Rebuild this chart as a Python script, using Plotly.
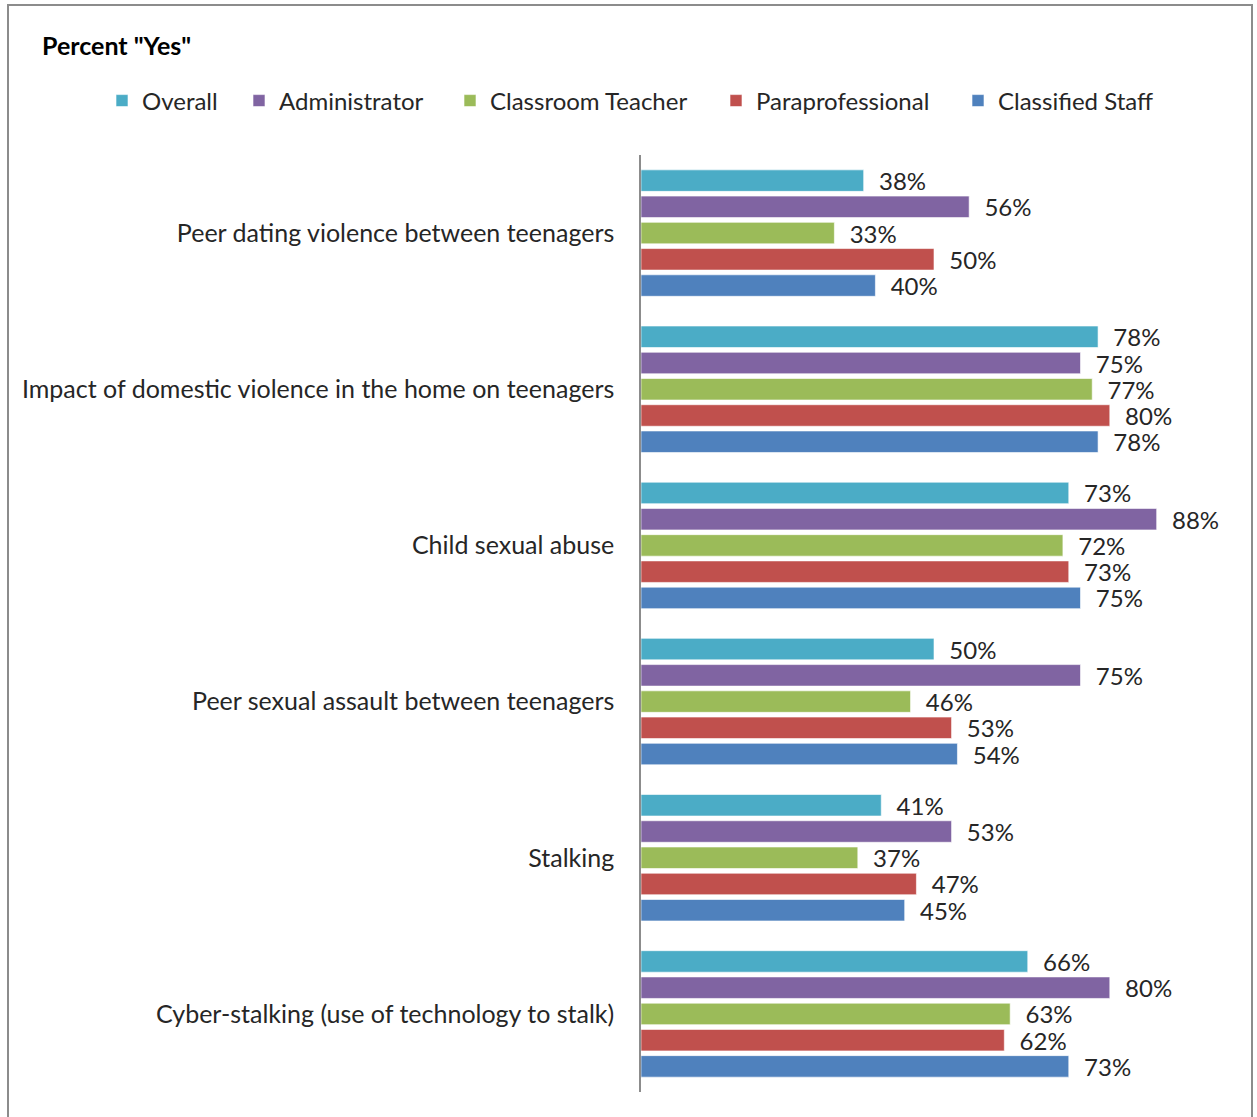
import plotly.graph_objects as go

# Survey topics (top to bottom) and the share answering "Yes" per respondent group
categories = [
    "Peer dating violence between teenagers",
    "Impact of domestic violence in the home on teenagers",
    "Child sexual abuse",
    "Peer sexual assault between teenagers",
    "Stalking",
    "Cyber-stalking (use of technology to stalk)",
]
series_names = ["Overall", "Administrator", "Classroom Teacher", "Paraprofessional", "Classified Staff"]
overall = [38, 78, 73, 50, 41, 66]
administrator = [56, 75, 88, 75, 53, 80]
classroom_teacher = [33, 77, 72, 46, 37, 63]
paraprofessional = [50, 80, 73, 53, 47, 62]
classified_staff = [40, 78, 75, 54, 45, 73]
series_values = [overall, administrator, classroom_teacher, paraprofessional, classified_staff]
colors = ["#4BACC6", "#8064A2", "#9BBB59", "#C0504D", "#4F81BD"]

W, H = 1257, 1117
ML, MR, MT, MB = 641, 30, 155, 25
PW, PH = W - ML - MR, H - MT - MB

FONT = "Lato"
TXT = "#262626"


def px_x(px):
    return (px - ML) / PW


def px_y(py):
    return (H - MB - py) / PH


# each series gets its own one-entry legend so entries can be spaced freely
legend_left = [102, 239, 450, 716, 958]

fig = go.Figure()
for i, (name, vals, col) in enumerate(zip(series_names, series_values, colors)):
    lg = "legend" if i == 0 else f"legend{i + 1}"
    fig.add_trace(go.Bar(
        y=categories, x=vals, name=name, orientation="h",
        marker=dict(color=col, line=dict(color="rgba(255,255,255,0.6)", width=1)),
        texttemplate="\u00a0\u00a0%{x}%", textposition="outside",
        textfont=dict(family=FONT, size=24, color=TXT),
        cliponaxis=False, constraintext="none",
        legend=lg, hoverinfo="skip",
    ))
    fig.update_layout({lg: dict(
        x=px_x(legend_left[i]), y=px_y(101), xanchor="left", yanchor="middle",
        orientation="h", bgcolor="rgba(0,0,0,0)", borderwidth=0,
        font=dict(family=FONT, size=24, color=TXT), itemwidth=30,
    )})

fig.update_layout(
    width=W, height=H,
    margin=dict(l=ML, r=MR, t=MT, b=MB),
    paper_bgcolor="white", plot_bgcolor="white",
    barmode="group", bargap=0.16, bargroupgap=0.18,
    showlegend=True,
    xaxis=dict(range=[0, 100], visible=False, fixedrange=True),
    yaxis=dict(
        autorange="reversed", showline=True, linecolor="#8C8C8C", linewidth=1.5,
        ticks="", ticklabelstandoff=20, showgrid=False,
        tickfont=dict(family=FONT, size=25, color=TXT),
    ),
    shapes=[dict(
        type="rect", xref="paper", yref="paper",
        x0=px_x(8), x1=px_x(1252), y0=px_y(1125), y1=px_y(5),
        line=dict(color="#8C8C8C", width=2), layer="below",
    )],
    annotations=[dict(
        text="<b>Percent \"Yes\"</b>", xref="paper", yref="paper",
        x=px_x(40), y=px_y(45), xanchor="left", yanchor="middle",
        showarrow=False, font=dict(family=FONT, size=25, color="#000000"),
    )],
)

fig.write_html("out.html")
